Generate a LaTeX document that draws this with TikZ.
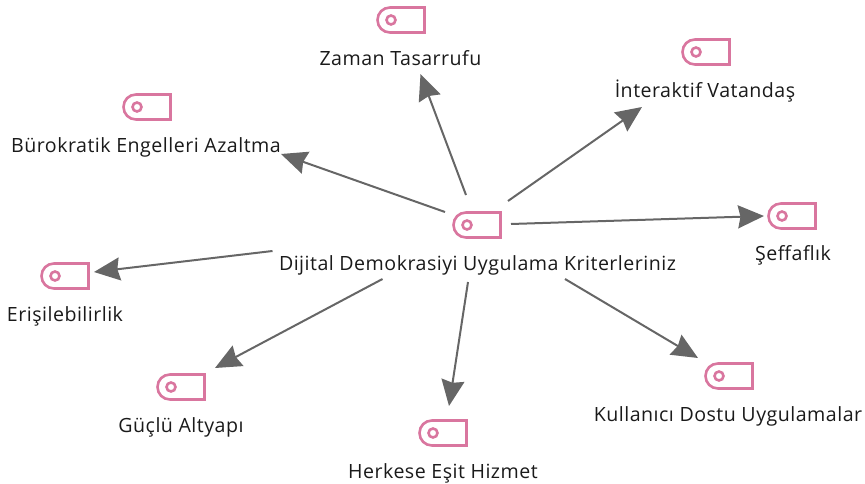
\documentclass[tikz,border=0pt]{standalone}
\usepackage{fontspec}
\setmainfont[LetterSpace=2.5]{Open Sans}
\usetikzlibrary{arrows.meta}
\definecolor{tagpink}{HTML}{D9769F}
\definecolor{linegray}{HTML}{666666}
\definecolor{txt}{HTML}{1A1A1A}
\tikzset{
  x=1pt,y=-1pt,
  conn/.style={draw=linegray,line width=2pt,-{Stealth[length=26pt,width=23pt,inset=2.5pt,fill=linegray]}},
  lab/.style={font=\fontsize{19.6}{22}\selectfont,text=txt,inner sep=0pt,anchor=center},
  tagicon/.pic={
    \draw[tagpink,line width=2.6pt] (23.5,-12.5) -- (-11,-12.5) .. controls (-18,-12.5) and (-23.5,-7) .. (-23.5,0) .. controls (-23.5,7) and (-18,12.5) .. (-11,12.5) -- (23.5,12.5) -- cycle;
    \draw[tagpink,line width=2.6pt] (-10,0) circle (4.5);
  },
  anchorpt/.style={inner sep=0pt,minimum size=0pt}
}
\begin{document}
\begin{tikzpicture}
\useasboundingbox (0,0) rectangle (865,484);
\pic at (477,225) {tagicon};
\pic at (401,20) {tagicon};
\pic at (706,52) {tagicon};
\pic at (147,107) {tagicon};
\pic at (792,216) {tagicon};
\pic at (65,276) {tagicon};
\pic at (181,387) {tagicon};
\pic at (443,433) {tagicon};
\pic at (729,376) {tagicon};
\node[anchorpt] (hubicon) at (477,225) {};
\node[lab] (hub) at (477.5,265) {Dijital Demokrasiyi Uygulama Kriterleriniz};
\node[lab] (zaman) at (400.5,58) {Zaman Tasarrufu};
\node[lab] (inter) at (705,91) {İnteraktif Vatandaş};
\node[lab] (buro) at (146,147) {Bürokratik Engelleri Azaltma};
\node[lab] (seff) at (793,255) {Şeffaflık};
\node[lab] (eris) at (65,316) {Erişilebilirlik};
\node[lab] (guclu) at (181,427) {Güçlü Altyapı};
\node[lab] (herk) at (443,473) {Herkese Eşit Hizmet};
\node[lab] (kull) at (728,416) {Kullanıcı Dostu Uygulamalar};
\draw[conn] ([shift={(-32,-13)}]hubicon.center) -- ([shift={(135,7)}]buro.center);
\draw[conn] ([shift={(-11,-30)}]hubicon.center) -- ([shift={(20,16)}]zaman.center);
\draw[conn] ([shift={(31,-24)}]hubicon.center) -- ([shift={(-63,16)}]inter.center);
\draw[conn] ([shift={(34,-1)}]hubicon.center) -- ([shift={(-29,-39)}]seff.center);
\draw[conn] ([shift={(-205,-14)}]hub.center) -- ([shift={(29,-44)}]eris.center);
\draw[conn] ([shift={(-95,14)}]hub.center) -- ([shift={(34,-59)}]guclu.center);
\draw[conn] ([shift={(-9.5,17)}]hub.center) -- ([shift={(6,-67)}]herk.center);
\draw[conn] ([shift={(87.5,14)}]hub.center) -- ([shift={(-30,-58)}]kull.center);
\end{tikzpicture}
\end{document}
